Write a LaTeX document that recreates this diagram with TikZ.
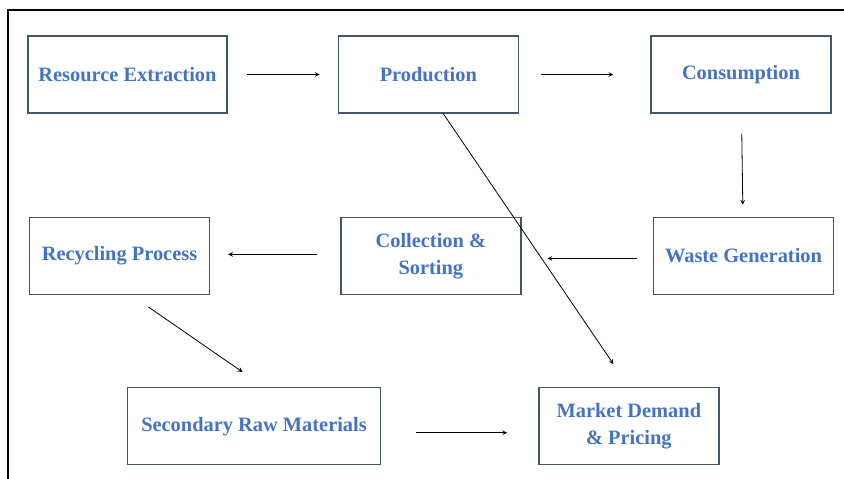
\documentclass[tikz,border=0pt]{standalone}
\usepackage{fontspec}
\setmainfont{Liberation Serif}
\usepackage{tikz}
\usetikzlibrary{arrows, positioning}
\definecolor{boxline}{RGB}{68,84,106}
\definecolor{boxtext}{RGB}{68,114,196}
\tikzset{
	stage/.style={
		rectangle, 
		minimum width=135pt, 
		minimum height=57.75pt, 
		text centered, 
		align=center,
		draw=boxline, 
		line width=1pt,
		text=boxtext,
		font=\fontsize{15.3}{20}\selectfont\bfseries
	},
	arrow/.style={line width=0.6pt,->,>=stealth}
}

\begin{document}
\begin{tikzpicture}
	\useasboundingbox (0,0) rectangle (633pt,-359.25pt);
	\draw [line width=1.2pt] (6pt,-359.25pt) -- (6pt,-7.5pt) -- (633pt,-7.5pt);

	\node (res) [stage, minimum width=149.25pt] at (95.6pt,-55.9pt) {Resource Extraction};
	\node (prod) [stage, right=82.5pt of res] {Production};
	\node (cons) [stage, right=98.5pt of prod] {Consumption\strut};
	\node (waste) [stage, below=77.25pt of cons, xshift=1.9pt] {Waste Generation};
	\node (coll) [stage, left=98.5pt of waste] {Collection \&\\Sorting};
	\node (rec) [stage, left=97.5pt of coll] {Recycling Process};
	\node (sec) [stage, minimum width=189.75pt, below=69pt of rec, xshift=100.9pt] {Secondary Raw Materials};
	\node (mkt) [stage, right=117.75pt of sec] {Market Demand\\\& Pricing};

	\draw [arrow, shorten <=14.25pt, shorten >=13.5pt] (res) -- (prod);
	\draw [arrow, shorten <=16.5pt, shorten >=27.75pt] (prod) -- (cons);
	\draw [arrow, shorten <=15pt, shorten >=9pt] (cons) -- (waste);
	\draw [arrow, shorten <=12pt, shorten >=19.5pt] ([yshift=-1.9pt]waste.west) -- ([yshift=-1.9pt]coll.east);
	\draw [arrow, shorten <=17.25pt, shorten >=13.5pt] ([yshift=1.1pt]coll.west) -- ([yshift=1.1pt]rec.east);
	\draw [arrow] ([xshift=21.75pt,yshift=-9pt]rec.south) -- ([xshift=-8.6pt,yshift=11.25pt]sec.north);
	\draw [arrow, shorten <=26.25pt, shorten >=23.25pt] ([yshift=-4.9pt]sec.east) -- ([yshift=-4.9pt]mkt.west);
	\draw [arrow] ([xshift=11.25pt]prod.south) -- ([xshift=-11.6pt,yshift=17.25pt]mkt.north);
\end{tikzpicture}
\end{document}
